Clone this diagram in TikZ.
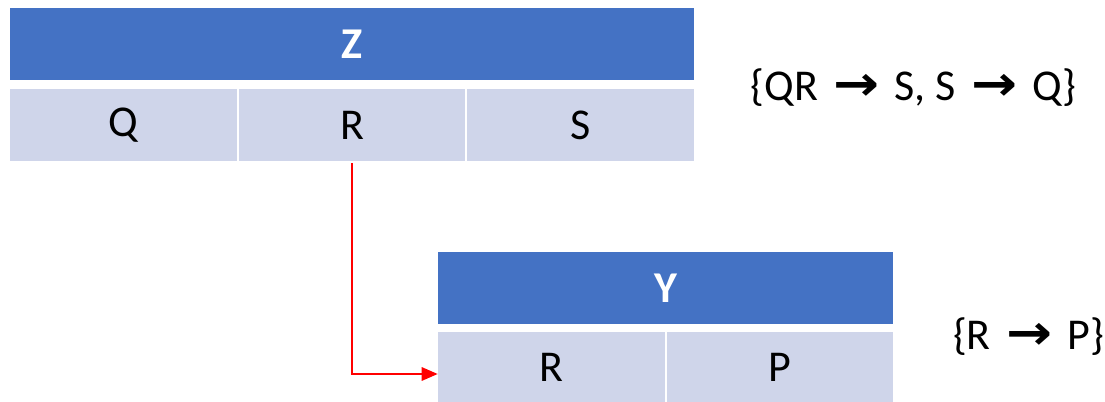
\documentclass[tikz,border=0pt]{standalone}
\usepackage{fontspec}
\setmainfont{Carlito}
\newfontfamily\arrowfont{DejaVu Sans}
\usetikzlibrary{arrows.meta}
\definecolor{hdrblue}{HTML}{4472C4}
\definecolor{cellblue}{HTML}{CFD5EA}
\newcommand{\fdarrow}{\hspace{0.12em}{\arrowfont\bfseries\scalebox{1.25}[1.1]{→}}\hspace{0.12em}}
\tikzset{
  hdr/.style={fill=hdrblue, text=white, inner sep=0pt, minimum height=54pt,
    font=\bfseries\fontsize{33}{33}\selectfont},
  cell/.style={fill=cellblue, text=black, inner sep=0pt, minimum height=54pt,
    font=\fontsize{33}{33}\selectfont},
  fd/.style={anchor=base, inner sep=0pt, font=\fontsize{33}{33}\selectfont},
  link/.style={draw=red, line width=1.5pt, -{Triangle[length=12pt,width=10pt]}}
}
\begin{document}
\begin{tikzpicture}[x=0.75pt, y=-0.75pt]
  \useasboundingbox (0,0) rectangle (1105,402);
  % relation Z
  \node[hdr, minimum width=513pt] (zh) at (352,44) {Z};
  \node[cell, minimum width=170.25pt] (zq) at (123.5,125) {Q};
  \node[cell, minimum width=169.5pt] (zr) at (352,125) {R};
  \node[cell, minimum width=170.25pt] (zs) at (580.5,125) {S};
  % relation Y
  \node[hdr, minimum width=341.25pt] (yh) at (665.5,288) {Y};
  \node[cell, minimum width=170.25pt, minimum height=52.5pt] (yr) at (551.5,367) {R};
  \node[cell, minimum width=169.5pt, minimum height=52.5pt] (yp) at (780,367) {P};
  % functional dependencies
  \node[fd] (fdz) at (913.5,101) {\{QR \fdarrow{} S, S \fdarrow{} Q\}};
  \node[fd] (fdy) at (1028.5,349) {\{R \fdarrow{} P\}};
  % foreign key link
  \coordinate (fkend) at ([yshift=-5.25pt]yr.west);
  \draw[link] ([yshift=-1.5pt]zr.south) |- (fkend);
\end{tikzpicture}
\end{document}
